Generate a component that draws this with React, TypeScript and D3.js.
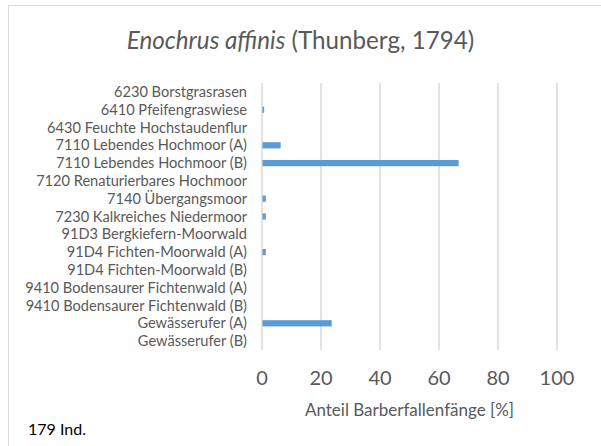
import React, { useEffect, useRef } from 'react';
import * as d3 from 'd3';

const habitats = [
  '6230 Borstgrasrasen',
  '6410 Pfeifengraswiese',
  '6430 Feuchte Hochstaudenflur',
  '7110 Lebendes Hochmoor (A)',
  '7110 Lebendes Hochmoor (B)',
  '7120 Renaturierbares Hochmoor',
  '7140 Übergangsmoor',
  '7230 Kalkreiches Niedermoor',
  '91D3 Bergkiefern-Moorwald',
  '91D4 Fichten-Moorwald (A)',
  '91D4 Fichten-Moorwald (B)',
  '9410 Bodensaurer Fichtenwald (A)',
  '9410 Bodensaurer Fichtenwald (B)',
  'Gewässerufer (A)',
  'Gewässerufer (B)',
];

// Anteil in % (179 Individuen)
const shares = [0, 0.56, 0, 6.15, 66.48, 0, 1.12, 1.12, 0, 1.12, 0, 0, 0, 23.46, 0];

const xTicks = [0, 20, 40, 60, 80, 100];

export default function App() {
  const svgRef = useRef<SVGSVGElement>(null);

  useEffect(() => {
    if (!svgRef.current) return;
    const width = 601;
    const height = 446;
    const svg = d3.select(svgRef.current);
    svg.selectAll('*').remove();

    const font = "Lato, 'Open Sans', sans-serif";
    const grey = '#595959';

    // Rahmen
    svg.append('rect')
      .attr('x', 8.5).attr('y', 5.5)
      .attr('width', 620).attr('height', 460)
      .attr('fill', 'white')
      .attr('stroke', '#d9d9d9')
      .attr('stroke-width', 1);

    const x = d3.scaleLinear().domain([0, 100]).range([262, 557]);
    const y = d3.scaleBand<string>()
      .domain(habitats)
      .range([83, 350])
      .paddingInner(0.65)
      .paddingOuter(0.325);

    // Gitterlinien
    svg.append('g')
      .selectAll('line')
      .data(xTicks)
      .join('line')
      .attr('x1', (d) => x(d)).attr('x2', (d) => x(d))
      .attr('y1', 83).attr('y2', 350)
      .attr('stroke', '#d9d9d9')
      .attr('stroke-width', 1.5);

    // Balken
    svg.append('g')
      .selectAll('rect')
      .data(shares)
      .join('rect')
      .attr('x', x(0) + 0.5)
      .attr('y', (_, i) => y(habitats[i])!)
      .attr('width', (d) => Math.max(0, x(d) - x(0)))
      .attr('height', y.bandwidth())
      .attr('fill', '#5b9bd5');

    // Kategorien
    svg.append('g')
      .selectAll('text')
      .data(habitats)
      .join('text')
      .attr('x', 247)
      .attr('y', (d) => y(d)! + y.bandwidth() / 2)
      .attr('dy', '0.35em')
      .attr('text-anchor', 'end')
      .attr('font-family', font)
      .attr('font-size', 14.6)
      .attr('fill', grey)
      .text((d) => d);

    // X-Achsenbeschriftung
    svg.append('g')
      .selectAll('text')
      .data(xTicks)
      .join('text')
      .attr('x', (d) => x(d))
      .attr('y', 378)
      .attr('dy', '0.35em')
      .attr('text-anchor', 'middle')
      .attr('font-family', font)
      .attr('font-size', 20)
      .attr('fill', grey)
      .text((d) => d);

    svg.append('text')
      .attr('x', (x(0) + x(100)) / 2)
      .attr('y', 410)
      .attr('dy', '0.35em')
      .attr('text-anchor', 'middle')
      .attr('font-family', font)
      .attr('font-size', 17)
      .attr('fill', grey)
      .text('Anteil Barberfallenfänge [%]');

    // Titel
    const title = svg.append('text')
      .attr('x', width / 2)
      .attr('y', 41)
      .attr('dy', '0.35em')
      .attr('text-anchor', 'middle')
      .attr('font-family', font)
      .attr('font-size', 24.2)
      .attr('fill', grey);
    title.append('tspan').attr('font-style', 'italic').text('Enochrus affinis');
    title.append('tspan').text(' (Thunberg, 1794)');

    svg.append('text')
      .attr('x', 28)
      .attr('y', 429)
      .attr('dy', '0.35em')
      .attr('font-family', font)
      .attr('font-size', 16)
      .attr('fill', '#000')
      .text('179 Ind.');

    svg.attr('width', width).attr('height', height);
  }, []);

  return <svg ref={svgRef} style={{ position: 'absolute', left: 0, top: 0, display: 'block' }} />;
}
